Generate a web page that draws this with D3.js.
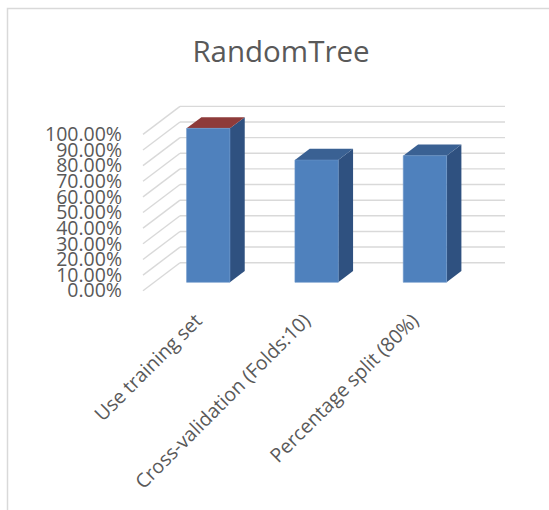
<!DOCTYPE html>
<html>
<head>
<meta charset="utf-8">
<script src="https://cdn.jsdelivr.net/npm/d3@7"></script>
<style>
  html, body { margin: 0; padding: 0; background: #fff; }
  svg { display: block; }
  text { font-family: "Open Sans", "Noto Sans", sans-serif; fill: #595959; }
</style>
</head>
<body>
<svg id="chart" width="549" height="510"></svg>
<script>
// Accuracy of the RandomTree classifier under three test options
const categories = ["Use training set", "Cross-validation (Folds:10)", "Percentage split (80%)"];
const accuracy = [0.985, 0.782, 0.810];
const yTicks = [0, 0.1, 0.2, 0.3, 0.4, 0.5, 0.6, 0.7, 0.8, 0.9, 1.0];
const title = "RandomTree";

const svg = d3.select("#chart");

// frame
svg.append("path")
  .attr("d", "M7.5,510 V8.5 H549")
  .attr("fill", "none")
  .attr("stroke", "#d9d9d9")
  .attr("stroke-width", 1.5);

// title
svg.append("text")
  .attr("x", 281).attr("y", 62)
  .attr("text-anchor", "middle")
  .style("font-size", "29.5px")
  .text(title);

// front plane scales; the back wall is offset by the full depth vector
const x = d3.scaleBand().domain(categories).range([143, 468])
  .paddingInner(0.6).paddingOuter(0.3);
const y = d3.scaleLinear().domain([0, 1]).range([290.7, 134.4]);
const depth = { dx: 37, dy: -28 };
const proj = (px, v, t) => [px + depth.dx * t, y(v) + depth.dy * t];

const grid = svg.append("g")
  .attr("stroke", "#d9d9d9").attr("stroke-width", 1.4).attr("fill", "none");

// back wall gridlines
grid.selectAll("line.back").data(yTicks).join("line")
  .attr("class", "back")
  .attr("x1", d => proj(143, d, 1)[0]).attr("y1", d => proj(143, d, 1)[1])
  .attr("x2", d => proj(468, d, 1)[0]).attr("y2", d => proj(468, d, 1)[1]);

// side wall gridlines
grid.selectAll("line.side").data(yTicks).join("line")
  .attr("class", "side")
  .attr("x1", d => proj(143, d, 0)[0]).attr("y1", d => proj(143, d, 0)[1])
  .attr("x2", d => proj(143, d, 1)[0]).attr("y2", d => proj(143, d, 1)[1]);

// value axis labels
const yAxis = d3.axisLeft(y).tickValues(yTicks).tickFormat(d3.format(".2%"))
  .tickSize(0).tickPadding(0);
const ag = svg.append("g").attr("transform", "translate(122,0)").call(yAxis);
ag.select(".domain").remove();
ag.selectAll("text")
  .attr("fill", "#595959")
  .style("font-family", "'Open Sans', sans-serif")
  .style("font-size", "19.5px");

// 3D columns
const t0 = 0.3, t1 = 0.7;
const bw = x.bandwidth();
const pts = arr => arr.map(p => p.join(",")).join(" ");
const data = categories.map((c, i) => ({ c, v: accuracy[i], i }));

const bars = svg.append("g").selectAll("g").data(data).join("g");

// right side face
bars.append("polygon")
  .attr("fill", "#2f5180")
  .attr("points", d => {
    const xr = x(d.c) + bw;
    return pts([proj(xr, 0, t0), proj(xr, 0, t1), proj(xr, d.v, t1), proj(xr, d.v, t0)]);
  });

// top face
bars.append("polygon")
  .attr("fill", d => d.i === 0 ? "#8e3b3a" : "#3a6193")
  .attr("points", d => {
    const xl = x(d.c), xr = x(d.c) + bw;
    return pts([proj(xl, d.v, t0), proj(xr, d.v, t0), proj(xr, d.v, t1), proj(xl, d.v, t1)]);
  });

// front face
bars.append("polygon")
  .attr("fill", "#4f81bd")
  .attr("stroke", "#6a95c9")
  .attr("stroke-width", 0.6)
  .attr("points", d => {
    const xl = x(d.c), xr = x(d.c) + bw;
    return pts([proj(xl, 0, t0), proj(xr, 0, t0), proj(xr, d.v, t0), proj(xl, d.v, t0)]);
  });

// category labels, rotated
svg.append("g").selectAll("text").data(categories).join("text")
  .attr("transform", d => `translate(${x(d) + bw / 2 + 6},322) rotate(-45)`)
  .attr("text-anchor", "end")
  .style("font-size", "19.5px")
  .text(d => d);
</script>
</body>
</html>
